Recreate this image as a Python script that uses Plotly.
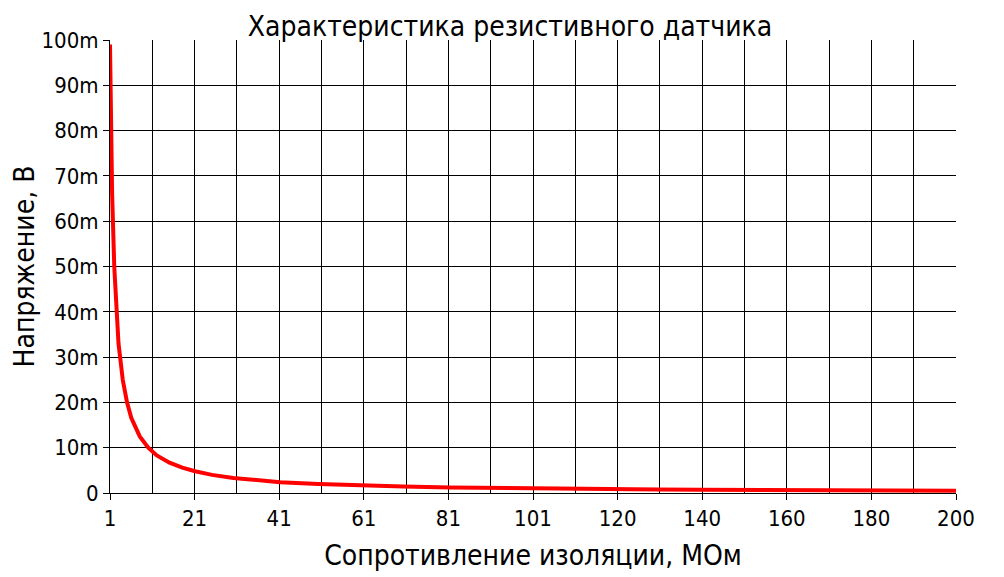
import plotly.graph_objects as go

# Data
resistance_mohm = [1, 1.5, 2, 2.5, 3, 4, 5, 6, 7, 8, 10, 12, 15, 18, 21, 25, 30, 35, 41,
                   50, 61, 70, 81, 90, 101, 110, 120, 130, 140, 150, 160, 170, 180, 190, 200]
voltage_v = [0.099, 0.066, 0.050, 0.040, 0.033, 0.025, 0.020, 0.0166, 0.0143, 0.0125, 0.010,
             0.0083, 0.0067, 0.0056, 0.0048, 0.0040, 0.0033, 0.0029, 0.0024,
             0.0020, 0.00164, 0.00143, 0.00123, 0.00111, 0.00099, 0.00091, 0.00083,
             0.00077, 0.00071, 0.00067, 0.00063, 0.00059, 0.00056, 0.00053, 0.00050]

x_tick_labels = ["1", "21", "41", "61", "81", "101", "120", "140", "160", "180", "200"]
y_tick_values = [0, 0.01, 0.02, 0.03, 0.04, 0.05, 0.06, 0.07, 0.08, 0.09, 0.1]
y_tick_labels = ["0", "10m", "20m", "30m", "40m", "50m", "60m", "70m", "80m", "90m", "100m"]

x_min, x_max = 1, 200
n = len(x_tick_labels) - 1
step = (x_max - x_min) / n
x_tick_pos = [x_min + i * step for i in range(n + 1)]
x_minor_pos = [x_min + (i + 0.5) * step for i in range(n)]

FONT = "DejaVu Sans Condensed, Liberation Sans Narrow, sans-serif"

fig = go.Figure()
fig.add_trace(go.Scatter(
    x=resistance_mohm, y=voltage_v, mode="lines",
    line=dict(color="#ff0000", width=4),
    showlegend=False,
))

fig.update_layout(
    width=1004, height=577,
    margin=dict(l=102, r=56, t=32, b=92),
    paper_bgcolor="white", plot_bgcolor="white",
    font=dict(family=FONT, color="black"),
    title=dict(text="Характеристика резистивного датчика",
               x=0.5, xanchor="center", y=0.969, yanchor="middle",
               font=dict(size=28, family=FONT, color="black")),
    xaxis=dict(
        range=[x_min, x_max], tickvals=x_tick_pos, ticktext=x_tick_labels,
        showgrid=True, gridcolor="black", gridwidth=1,
        showline=True, linecolor="black", linewidth=1, mirror=False,
        ticks="outside", ticklen=6, tickcolor="black",
        tickfont=dict(size=22, family=FONT),
        minor=dict(tickvals=x_minor_pos, showgrid=True, gridcolor="black", gridwidth=1, ticks=""),
        zeroline=False, automargin=False,
        title=dict(text="Сопротивление изоляции, МОм", font=dict(size=28, family=FONT), standoff=14),
    ),
    yaxis=dict(
        range=[0, 0.1], tickvals=y_tick_values, ticktext=y_tick_labels,
        showgrid=True, gridcolor="black", gridwidth=1,
        showline=True, linecolor="black", linewidth=1,
        ticks="outside", ticklen=6, tickcolor="black",
        tickfont=dict(size=22, family=FONT),
        zeroline=False, automargin=False,
        title=dict(text="Напряжение, В", font=dict(size=28, family=FONT), standoff=6),
    ),
)

fig.write_html("out.html")
